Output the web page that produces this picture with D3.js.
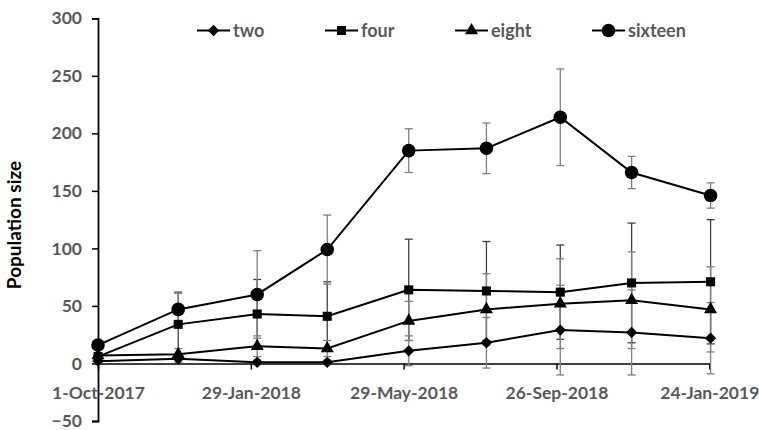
<!DOCTYPE html>
<html>
<head>
<meta charset="utf-8">
<script src="https://cdn.jsdelivr.net/npm/d3@7"></script>
<style>
  html, body { margin: 0; padding: 0; background: #fff; }
  svg { display: block; }
  text { font-family: Lato, "Open Sans", sans-serif; font-weight: bold; }
</style>
</head>
<body>
<svg id="chart" width="759" height="430"></svg>
<script>
// ---- data ----
const dates = ["2017-10-01","2017-12-03","2018-02-03","2018-03-30","2018-06-02","2018-08-02","2018-09-29","2018-11-24","2019-01-25"];
const seriesNames = ["two","four","eight","sixteen"];
const twoValues     = [2, 4, 1, 1, 11, 18, 29, 27, 22];
const twoErrors     = [2, 3, 2, 2, 13, 22, 39, 37, 31];
const fourValues    = [6, 34, 43, 41, 64, 63, 62, 70, 71];
const fourErrors    = [3, 28, 30, 30, 44, 43, 41, 52, 54];
const eightValues   = [7, 8, 15, 13, 37, 47, 52, 55, 47];
const eightErrors   = [2, 5, 9, 7, 17, 31, 39, 42, 37];
const sixteenValues = [16, 47, 60, 99, 185, 187, 214, 166, 146];
const sixteenErrors = [3, 14, 38, 30, 19, 22, 42, 14, 11];
const xTickLabels = ["1-Oct-2017","29-Jan-2018","29-May-2018","26-Sep-2018","24-Jan-2019"];
const xTickDates  = ["2017-10-01","2018-01-29","2018-05-29","2018-09-26","2019-01-24"];
const yTicks = [-50, 0, 50, 100, 150, 200, 250, 300];
const yTitle = "Population size";

const parse = d3.utcParse("%Y-%m-%d");
const series = [
  {name: seriesNames[0], values: twoValues,     errors: twoErrors,     marker: "diamond",  errColor: "#7f7f7f"},
  {name: seriesNames[1], values: fourValues,    errors: fourErrors,    marker: "square",   errColor: "#404040"},
  {name: seriesNames[2], values: eightValues,   errors: eightErrors,   marker: "triangle", errColor: "#7f7f7f"},
  {name: seriesNames[3], values: sixteenValues, errors: sixteenErrors, marker: "circle",   errColor: "#7f7f7f"}
];

const svg = d3.select("#chart");
const x = d3.scaleUtc().domain([parse(xTickDates[0]), parse(xTickDates[xTickDates.length-1])]).range([98, 709.3]);
const y = d3.scaleLinear().domain([-50, 300]).range([421, 18.3]);

const symbolOf = {
  diamond:  d3.symbol().type(d3.symbolSquare).size(64),
  square:   d3.symbol().type(d3.symbolSquare).size(82),
  triangle: d3.symbol().type(d3.symbolTriangle).size(74),
  circle:   d3.symbol().type(d3.symbolCircle).size(145)
};
const rotOf = {diamond: 45, square: 0, triangle: 0, circle: 0};

// ---- y axis ----
const yAxis = d3.axisLeft(y).tickValues(yTicks).tickSize(6).tickPadding(10)
  .tickFormat(d => d < 0 ? "\u2212" + Math.abs(d) : d);
const gy = svg.append("g").attr("transform", `translate(${x.range()[0]},0)`).call(yAxis);
gy.select(".domain").attr("stroke", "#000").attr("stroke-width", 1.8);
gy.selectAll(".tick line").attr("stroke", "#000").attr("stroke-width", 1.5);
gy.selectAll(".tick text").attr("fill", "#595959").attr("font-size", 17.5);

// ---- x axis at y=0 ----
const xAxis = d3.axisBottom(x).tickValues(xTickDates.map(parse)).tickSize(6).tickSizeOuter(0)
  .tickFormat((d, i) => xTickLabels[i]).tickPadding(17);
const gx = svg.append("g").attr("transform", `translate(0,${y(0)})`).call(xAxis);
gx.select(".domain").attr("stroke", "#000").attr("stroke-width", 1.5);
gx.selectAll(".tick line").attr("stroke", "#000").attr("stroke-width", 1.5);
gx.selectAll(".tick text").attr("fill", "#595959").attr("font-size", 17.5);

// ---- y title ----
svg.append("text")
  .attr("transform", `translate(21,225) rotate(-90)`)
  .attr("text-anchor", "middle")
  .attr("fill", "#000").attr("font-size", 19)
  .text(yTitle);

// ---- error bars ----
const capW = 4;
series.forEach(s => {
  const g = svg.append("g").attr("stroke", s.errColor).attr("stroke-width", 1.3).attr("fill", "none");
  s.values.forEach((v, i) => {
    const e = s.errors[i];
    const cx = x(parse(dates[i]));
    g.append("line").attr("x1", cx).attr("x2", cx).attr("y1", y(v - e)).attr("y2", y(v + e));
    g.append("line").attr("x1", cx - capW).attr("x2", cx + capW).attr("y1", y(v + e)).attr("y2", y(v + e));
    g.append("line").attr("x1", cx - capW).attr("x2", cx + capW).attr("y1", y(v - e)).attr("y2", y(v - e));
  });
});

// ---- lines ----
const line = d3.line().x((d, i) => x(parse(dates[i]))).y(d => y(d));
series.forEach(s => {
  svg.append("path").datum(s.values).attr("d", line)
    .attr("fill", "none").attr("stroke", "#000").attr("stroke-width", 2);
});

// ---- markers ----
series.forEach(s => {
  svg.append("g").selectAll("path").data(s.values).join("path")
    .attr("d", symbolOf[s.marker])
    .attr("transform", (d, i) => `translate(${x(parse(dates[i]))},${y(d)}) rotate(${rotOf[s.marker]})`)
    .attr("fill", "#000");
});

// ---- legend ----
const legendX = [197, 325, 455, 592];
const legendY = 30.5;
series.forEach((s, i) => {
  const g = svg.append("g").attr("transform", `translate(${legendX[i]},${legendY})`);
  g.append("line").attr("x1", 0).attr("x2", 33).attr("y1", 0).attr("y2", 0).attr("stroke", "#000").attr("stroke-width", 2);
  g.append("path").attr("d", symbolOf[s.marker]).attr("transform", `translate(16.5,0) rotate(${rotOf[s.marker]})`).attr("fill", "#000");
  g.append("text").attr("x", 36).attr("y", 0).attr("dy", "0.35em")
    .attr("fill", "#595959").attr("font-size", 18).text(s.name);
});
</script>
</body>
</html>
